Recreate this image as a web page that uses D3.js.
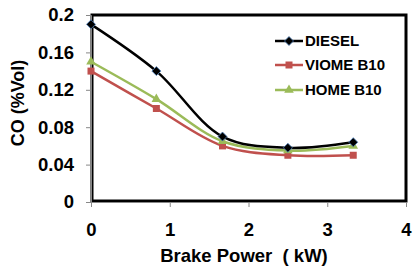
<!DOCTYPE html>
<html>
<head>
<meta charset="utf-8">
<script src="https://cdn.jsdelivr.net/npm/d3@7"></script>
<style>
  body { margin: 0; background: #fff; }
  text { font-family: "Liberation Sans", Arial, sans-serif; font-weight: bold; fill: #000; }
</style>
</head>
<body>
<svg id="chart" width="416" height="271"></svg>
<script>
// data
var power = [0, 0.83, 1.67, 2.5, 3.33];
var diesel = [0.19, 0.14, 0.07, 0.058, 0.064];
var viome = [0.14, 0.10, 0.06, 0.05, 0.05];
var home = [0.15, 0.11, 0.065, 0.055, 0.06];
var seriesNames = ["DIESEL", "VIOME B10", "HOME B10"];
var seriesColours = ["#000000", "#C0504D", "#9BBB59"];
var xTicks = [0, 1, 2, 3, 4];
var yTicks = [0, 0.04, 0.08, 0.12, 0.16, 0.2];

var PLOT_LEFT = 91, PLOT_RIGHT = 406, PLOT_TOP = 15, PLOT_BOTTOM = 202;

var svg = d3.select("#chart");

var x = d3.scaleLinear().domain([0, 4]).range([PLOT_LEFT, PLOT_RIGHT]);
var y = d3.scaleLinear().domain([0, 0.2]).range([PLOT_BOTTOM, PLOT_TOP]);

// plot frame
svg.append("rect")
    .attr("x", PLOT_LEFT + 1)
    .attr("y", PLOT_TOP)
    .attr("width", PLOT_RIGHT - PLOT_LEFT - 1)
    .attr("height", PLOT_BOTTOM - PLOT_TOP - 1)
    .attr("fill", "none")
    .attr("stroke", "#000")
    .attr("stroke-width", 3);

// axes
var xAxis = svg.append("g")
    .attr("transform", "translate(0," + PLOT_BOTTOM + ")")
    .call(d3.axisBottom(x).tickValues(xTicks).tickSize(5).tickPadding(16).tickFormat(d3.format("d")));
var yAxis = svg.append("g")
    .attr("transform", "translate(" + PLOT_LEFT + ",0)")
    .call(d3.axisLeft(y).tickValues(yTicks).tickSize(5).tickPadding(12).tickFormat(function (d) { return d === 0 ? "0" : d3.format("")(+d.toFixed(2)); }));

[xAxis, yAxis].forEach(function (a) {
    a.select(".domain").attr("stroke", "#888").attr("stroke-width", 1);
    a.selectAll(".tick line").attr("stroke", "#888");
    a.selectAll(".tick text")
        .attr("font-family", "Liberation Sans, Arial, sans-serif")
        .attr("font-weight", "bold")
        .attr("font-size", 18.5)
        .attr("fill", "#000");
});

// axis titles
svg.append("text")
    .attr("x", 244)
    .attr("y", 262)
    .attr("text-anchor", "middle")
    .attr("font-size", 18.5)
    .text("Brake Power\u00a0 ( kW)");

svg.append("text")
    .attr("transform", "translate(24,103) rotate(-90)")
    .attr("text-anchor", "middle")
    .attr("font-size", 18)
    .text("CO (%Vol)");

// lines
var allSeries = [diesel, viome, home];
var line = d3.line()
    .x(function (d) { return x(d[0]); })
    .y(function (d) { return y(d[1]); })
    .curve(d3.curveCatmullRom.alpha(0.5));

function marker(g, i, cx, cy) {
    if (i === 0) {
        var r = 4.5;
        g.append("path")
            .attr("d", "M" + cx + "," + (cy - r) + "L" + (cx + r) + "," + cy + "L" + cx + "," + (cy + r) + "L" + (cx - r) + "," + cy + "Z")
            .attr("fill", "#000")
            .attr("stroke", "#4F81BD")
            .attr("stroke-width", 0.8);
    } else if (i === 1) {
        g.append("rect")
            .attr("x", cx - 3.5).attr("y", cy - 3.5)
            .attr("width", 7).attr("height", 7)
            .attr("fill", seriesColours[1]);
    } else {
        g.append("path")
            .attr("d", d3.symbol().type(d3.symbolTriangle).size(40)())
            .attr("transform", "translate(" + cx + "," + cy + ")")
            .attr("fill", seriesColours[2]);
    }
}

// draw in back-to-front order: VIOME, HOME, DIESEL
[1, 2, 0].forEach(function (i) {
    var pts = power.map(function (p, k) { return [p, allSeries[i][k]]; });
    var g = svg.append("g");
    g.append("path")
        .attr("d", line(pts))
        .attr("fill", "none")
        .attr("stroke", seriesColours[i])
        .attr("stroke-width", 2.5);
    pts.forEach(function (d) { marker(g, i, x(d[0]), y(d[1])); });
});

// legend
var legendY = [41, 65, 90];
seriesNames.forEach(function (name, i) {
    var g = svg.append("g");
    g.append("line")
        .attr("x1", 275).attr("x2", 303)
        .attr("y1", legendY[i]).attr("y2", legendY[i])
        .attr("stroke", seriesColours[i])
        .attr("stroke-width", 2.5);
    marker(g, i, 289, legendY[i]);
    g.append("text")
        .attr("x", 305)
        .attr("y", legendY[i])
        .attr("dy", "0.36em")
        .attr("font-size", 15)
        .text(name);
});
</script>
</body>
</html>
